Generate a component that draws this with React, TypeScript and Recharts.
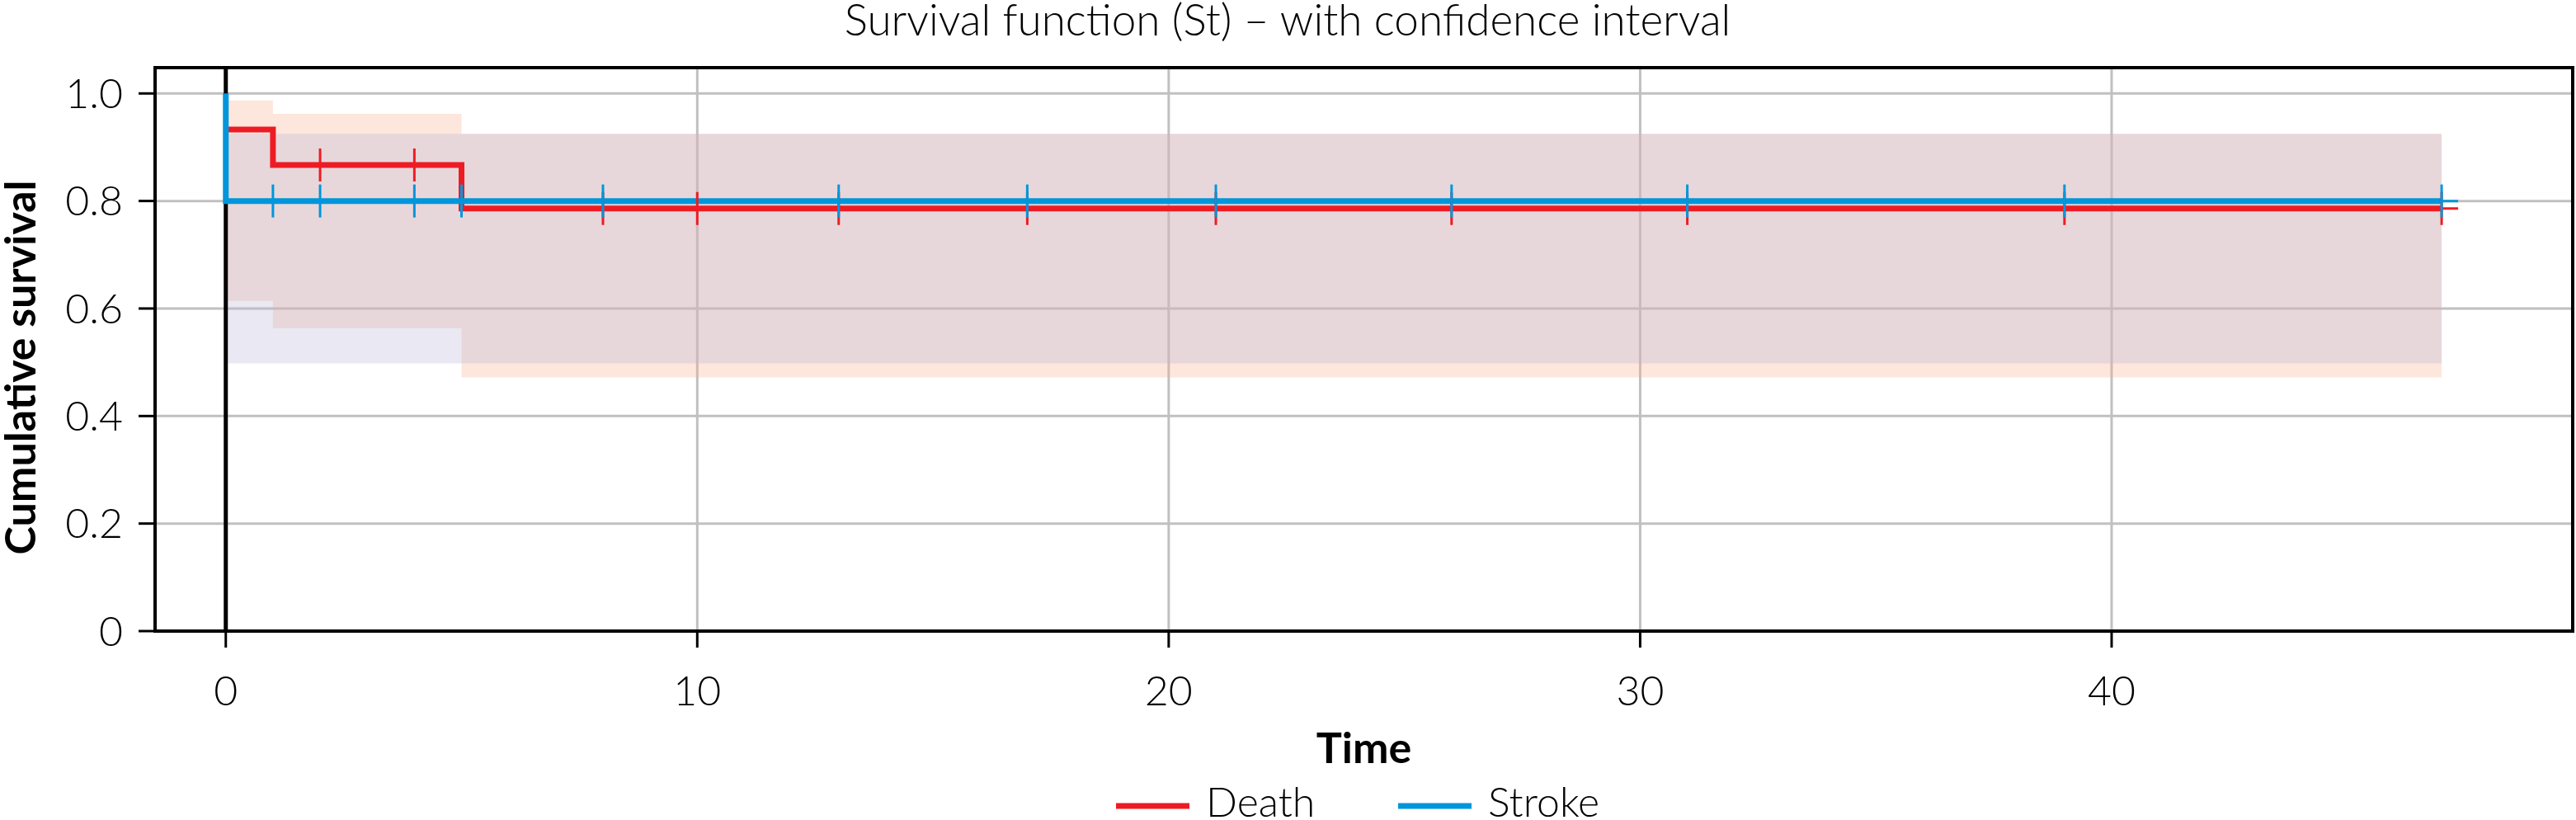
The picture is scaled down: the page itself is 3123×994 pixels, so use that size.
import React from "react";
import {
  ComposedChart,
  Area,
  Line,
  Scatter,
  XAxis,
  YAxis,
  CartesianGrid,
  ReferenceLine,
  ReferenceArea,
  Label,
} from "recharts";

// ── Data ──────────────────────────────────────────────────────────────────────

const deathTimes = [0, 1, 5, 47];
const deathSurv = [0.933, 0.867, 0.786, 0.786];
const deathLower = [0.614, 0.563, 0.472, 0.472];
const deathUpper = [0.987, 0.962, 0.925, 0.925];
const deathCensored = [2, 4, 8, 10, 13, 17, 21, 26, 31, 39, 47];

const strokeTimes = [0, 0, 47];
const strokeSurv = [1.0, 0.8, 0.8];
const strokeCiTimes = [0, 47];
const strokeLower = [0.498, 0.498];
const strokeUpper = [0.925, 0.925];
const strokeCensored = [1, 2, 4, 5, 8, 13, 17, 21, 26, 31, 39, 47];

const xTicks = [0, 10, 20, 30, 40];
const yTicks = [0, 0.2, 0.4, 0.6, 0.8, 1.0];
const xDomain: [number, number] = [-1.5, 49.78];
const yDomain: [number, number] = [0, 1.048];

const seriesNames = ["Death", "Stroke"];
const seriesColors = ["#ed1c24", "#0096db"];

// ── Helpers ───────────────────────────────────────────────────────────────────

const W = 3123;
const H = 994;
const LIGHT = "Lato, 'Open Sans', sans-serif";

function zipLine(times: number[], surv: number[]) {
  return times.map((t, i) => ({ t, s: surv[i] }));
}

function zipBand(times: number[], lo: number[], hi: number[]) {
  return times.map((t, i) => ({ t, band: [lo[i], hi[i]] }));
}

// survival value at time t (step function, last step with time <= t)
function stepAt(times: number[], surv: number[], t: number) {
  let v = surv[0];
  times.forEach((tt, i) => {
    if (tt <= t) v = surv[i];
  });
  return v;
}

function censorPoints(censored: number[], times: number[], surv: number[]) {
  return censored.map((t) => ({ t, s: stepAt(times, surv, t) }));
}

function PlusMark(color: string) {
  return (props: any) => {
    const { cx, cy } = props;
    return (
      <g>
        <line x1={cx} x2={cx} y1={cy - 20} y2={cy + 20} stroke={color} strokeWidth={3} />
        <line x1={cx - 20} x2={cx + 20} y1={cy} y2={cy} stroke={color} strokeWidth={3} />
      </g>
    );
  };
}

const deathLine = zipLine(deathTimes, deathSurv);
const deathBand = zipBand(deathTimes, deathLower, deathUpper);
const deathMarks = censorPoints(deathCensored, deathTimes, deathSurv);
const strokeLine = zipLine(strokeTimes, strokeSurv);
const strokeBand = zipBand(strokeCiTimes, strokeLower, strokeUpper);
const strokeMarks = censorPoints(strokeCensored, strokeTimes, strokeSurv);

const fmtY = (v: number) => (v === 0 ? "0" : v.toFixed(1));

// ── Component ─────────────────────────────────────────────────────────────────

export default function App() {
  return (
    <div style={{ position: "absolute", left: 0, top: 0, width: W, height: H, background: "#fff" }}>
      <ComposedChart width={W} height={H} margin={{ top: 82, right: 4, bottom: 29, left: 0 }}>
        <CartesianGrid stroke="#c0c0c0" strokeWidth={3} />
        <XAxis
          dataKey="t"
          type="number"
          domain={xDomain}
          ticks={xTicks}
          allowDataOverflow
          height={200}
          axisLine={false}
          tickSize={20}
          tickMargin={34}
          tickLine={{ stroke: "#000", strokeWidth: 3 }}
          tick={{ fill: "#000", fontSize: 50, fontFamily: LIGHT, fontWeight: 300 }}
        >
          <Label
            value="Time"
            position="insideTop"
            offset={123}
            style={{ fill: "#000", fontSize: 52, fontWeight: 700, fontFamily: LIGHT }}
          />
        </XAxis>
        <YAxis
          type="number"
          domain={yDomain}
          ticks={yTicks}
          allowDataOverflow
          width={188}
          axisLine={false}
          tickSize={20}
          tickMargin={19}
          tickFormatter={fmtY}
          tickLine={{ stroke: "#000", strokeWidth: 3 }}
          tick={{ fill: "#000", fontSize: 50, fontFamily: LIGHT, fontWeight: 300 }}
        >
          <Label
            content={(p: any) => {
              const vb = p.viewBox;
              const x = vb.x + 43;
              const y = vb.y + vb.height / 2 + 22;
              return (
                <text
                  x={x}
                  y={y}
                  transform={`rotate(-90, ${x}, ${y})`}
                  textAnchor="middle"
                  fill="#000"
                  fontSize={52}
                  fontWeight={700}
                  fontFamily={LIGHT}
                >
                  Cumulative survival
                </text>
              );
            }}
          />
        </YAxis>

        <ReferenceLine x={0} stroke="#000" strokeWidth={5} />

        <Area
          data={deathBand}
          dataKey="band"
          type="stepAfter"
          stroke="none"
          fill="#f8ac8a"
          fillOpacity={0.3}
          isAnimationActive={false}
        />
        <Area
          data={strokeBand}
          dataKey="band"
          type="stepAfter"
          stroke="none"
          fill="#bdb7d6"
          fillOpacity={0.32}
          isAnimationActive={false}
        />

        <Line
          data={deathLine}
          dataKey="s"
          type="stepAfter"
          stroke={seriesColors[0]}
          strokeWidth={7}
          strokeLinejoin="miter"
          dot={false}
          activeDot={false}
          isAnimationActive={false}
        />
        <Scatter data={deathMarks} dataKey="s" shape={PlusMark(seriesColors[0])} isAnimationActive={false} />
        <Line
          data={strokeLine}
          dataKey="s"
          type="stepAfter"
          stroke={seriesColors[1]}
          strokeWidth={7}
          strokeLinejoin="miter"
          dot={false}
          activeDot={false}
          isAnimationActive={false}
        />
        <Scatter data={strokeMarks} dataKey="s" shape={PlusMark(seriesColors[1])} isAnimationActive={false} />

        <ReferenceArea
          x1={xDomain[0]}
          x2={xDomain[1]}
          y1={yDomain[0]}
          y2={yDomain[1]}
          fill="none"
          fillOpacity={0}
          stroke="#000"
          strokeWidth={4}
          ifOverflow="visible"
        />
      </ComposedChart>

      {/* title + legend overlay */}
      <svg width={W} height={H} style={{ position: "absolute", left: 0, top: 0, pointerEvents: "none" }}>
        <text x={1561} y={43} textAnchor="middle" fontSize={53} fontWeight={300} fontFamily={LIGHT} fill="#000">
          Survival function (St) – with confidence interval
        </text>
        {seriesNames.map((name, i) => {
          const x0 = i === 0 ? 1353 : 1695;
          return (
            <g key={name}>
              <line x1={x0} x2={x0 + 89} y1={977} y2={977} stroke={seriesColors[i]} strokeWidth={7} />
              <text x={x0 + 109} y={990} fontSize={50} fontWeight={300} fontFamily={LIGHT} fill="#000">
                {name}
              </text>
            </g>
          );
        })}
      </svg>
    </div>
  );
}
